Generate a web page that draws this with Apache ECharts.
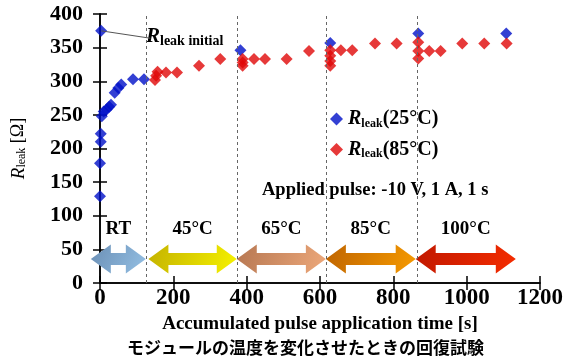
<!DOCTYPE html>
<html>
<head>
<meta charset="utf-8">
<script src="https://cdn.jsdelivr.net/npm/echarts@6/dist/echarts.min.js"></script>
<style>
  html, body { margin: 0; padding: 0; background: #fff; }
  #chart { width: 573px; height: 361px; }
</style>
</head>
<body>
<div id="chart"></div>
<script>
// 25°C の測定点 (時間[s], 抵抗[Ω])
const blueTime = [3, 0, 0, 2, 2, 5, 10, 18, 25, 30, 40, 50, 58, 90, 120, 383, 628, 868, 1108]
const blueR = [375, 129, 178, 210, 222, 248, 255, 258, 262, 265, 283, 290, 295, 303, 303, 346, 357, 371, 371]

// 85°C の測定点
const redTime = [150, 153, 157, 180, 210, 270, 328,
  389, 389, 389, 420, 450, 509, 570,
  628, 628, 628, 628, 657, 688, 750, 809,
  868, 868, 868, 898, 929, 988, 1048, 1109]
const redR = [302, 308, 314, 313, 313, 323, 333,
  323, 328, 333, 333, 333, 333, 345,
  323, 330, 338, 346, 346, 346, 356, 356,
  334, 345, 358, 345, 345, 356, 356, 356]

// 温度区間 (矢印の始点・終点, 区切り線)
const stageNames = ['RT', '45°C', '65°C', '85°C', '100°C']
const stageStart = [-25, 132, 373, 616, 861]
const stageEnd = [125, 373, 616, 861, 1134]
const stageBorders = [127, 373, 618, 865]

const xTicks = [0, 200, 400, 600, 800, 1000, 1200]
const yTicks = [0, 50, 100, 150, 200, 250, 300, 350, 400]

const serif = 'Liberation Serif'
const arrowColors = [
  ['#6b8fb5', '#94c0e4'],
  ['#c4b200', '#f6f200'],
  ['#b67752', '#eda87a'],
  ['#bf6400', '#f69a00'],
  ['#c01800', '#f52c00']
]

const myChart = echarts.init(document.getElementById('chart'))

const axisLine = { show: true, lineStyle: { color: '#000', width: 1.5 } }
const tick = { show: true, inside: true, length: 7, lineStyle: { color: '#000', width: 1.5 } }

const option = {
  animation: false,
  backgroundColor: '#fff',
  grid: { left: 100, right: 33, top: 14, bottom: 78 },
  legend: {
    orient: 'vertical',
    left: 325,
    top: 104,
    itemGap: 10,
    itemWidth: 13,
    itemHeight: 13,
    data: ['25', '85'],
    formatter: function (name) {
      return '{r|R}{s|leak}{n|(' + name + '°C)}'
    },
    textStyle: {
      rich: {
        r: { fontFamily: serif, fontStyle: 'italic', fontWeight: 'bold', fontSize: 20, color: '#000' },
        s: { fontFamily: serif, fontWeight: 'bold', fontSize: 12, color: '#000', padding: [9, 0, 0, 0] },
        n: { fontFamily: serif, fontWeight: 'bold', fontSize: 20, color: '#000' }
      }
    }
  },
  xAxis: [
    {
      type: 'value',
      min: 0,
      max: 1200,
      interval: 200,
      axisLine: axisLine,
      axisTick: tick,
      splitLine: { show: false },
      axisLabel: {
        color: '#000',
        fontFamily: serif,
        fontWeight: 'bold',
        fontSize: 23,
        margin: 4,
        formatter: v => (xTicks.indexOf(v) >= 0 ? String(v) : '')
      },
      name: 'Accumulated pulse application time [s]',
      nameLocation: 'middle',
      nameGap: 31,
      nameTextStyle: { color: '#000', fontFamily: serif, fontWeight: 'bold', fontSize: 19 }
    },
    {
      type: 'value',
      position: 'top',
      min: 0,
      max: 1200,
      interval: 200,
      axisLine: axisLine,
      axisTick: tick,
      axisLabel: { show: false },
      splitLine: { show: false }
    }
  ],
  yAxis: [
    {
      type: 'value',
      min: 0,
      max: 400,
      interval: 50,
      axisLine: axisLine,
      axisTick: tick,
      splitLine: { show: false },
      axisLabel: {
        color: '#000',
        fontFamily: serif,
        fontWeight: 'bold',
        fontSize: 22,
        margin: 17,
        formatter: v => (yTicks.indexOf(v) >= 0 ? String(v) : '')
      },
      name: '{r|R}{s|leak}{n| [Ω]}',
      nameLocation: 'middle',
      nameRotate: 90,
      nameGap: 72,
      nameTextStyle: {
        rich: {
          r: { fontFamily: serif, fontStyle: 'italic', fontSize: 19, color: '#000' },
          s: { fontFamily: serif, fontSize: 12, color: '#000', padding: [7, 0, 0, 0] },
          n: { fontFamily: serif, fontSize: 18, color: '#000' }
        }
      }
    },
    {
      type: 'value',
      position: 'right',
      min: 0,
      max: 400,
      interval: 50,
      axisLine: axisLine,
      axisTick: tick,
      axisLabel: { show: false },
      splitLine: { show: false }
    }
  ],
  graphic: [
    {
      type: 'text',
      left: 146,
      top: 26,
      style: {
        text: '{r|R}{s|leak initial}',
        rich: {
          r: { fontFamily: serif, fontStyle: 'italic', fontWeight: 'bold', fontSize: 21, fill: '#000' },
          s: { fontFamily: serif, fontWeight: 'bold', fontSize: 14, fill: '#000', padding: [9, 0, 0, 0] }
        }
      }
    },
    {
      type: 'text',
      left: 262,
      top: 181,
      style: {
        text: 'Applied pulse: -10 V, 1 A, 1 s',
        fontFamily: serif,
        fontWeight: 'bold',
        fontSize: 18.5,
        fill: '#000'
      }
    },
    {
      type: 'text',
      left: 127,
      top: 339,
      style: {
        text: 'モジュールの温度を変化させたときの回復試験',
        fontFamily: 'Noto Sans CJK JP',
        fontWeight: 'bold',
        fontSize: 17,
        fill: '#000'
      }
    }
  ],
  series: [
    {
      // 温度区間の矢印
      type: 'custom',
      clip: false,
      silent: true,
      z: 1,
      data: stageStart.map((s, i) => [s, stageEnd[i], i]),
      renderItem: function (params, api) {
        const a = api.coord([api.value(0), 0])
        const b = api.coord([api.value(1), 0])
        const i = api.value(2)
        const yc = a[1] - 24
        const x1 = a[0], x2 = b[0]
        const H = 14.5, h = 6, L = 20
        const pts = [
          [x1, yc], [x1 + L, yc - H], [x1 + L, yc - h], [x2 - L, yc - h], [x2 - L, yc - H],
          [x2, yc], [x2 - L, yc + H], [x2 - L, yc + h], [x1 + L, yc + h], [x1 + L, yc + H]
        ]
        return {
          type: 'group',
          children: [
            {
              type: 'polygon',
              shape: { points: pts },
              style: {
                fill: new echarts.graphic.LinearGradient(0, 0, 1, 1, [
                  { offset: 0, color: arrowColors[i][0] },
                  { offset: 1, color: arrowColors[i][1] }
                ])
              }
            },
            {
              type: 'text',
              x: (x1 + x2) / 2,
              y: yc - 30,
              style: {
                text: stageNames[i],
                fontFamily: serif,
                fontWeight: 'bold',
                fontSize: 19,
                fill: '#000',
                align: 'center',
                verticalAlign: 'middle'
              }
            }
          ]
        }
      }
    },
    {
      name: '25',
      type: 'scatter',
      symbol: 'diamond',
      symbolSize: 12,
      clip: false,
      z: 3,
      itemStyle: { color: '#0010c8' },
      data: blueTime.map((t, i) => [t, blueR[i]]),
      markLine: {
        silent: true,
        symbol: 'none',
        label: { show: false },
        lineStyle: { color: '#555', width: 1, type: 'solid' },
        data: [[{ coord: [blueTime[0], blueR[0]] }, { coord: [137, 364] }]]
      }
    },
    {
      name: '85',
      type: 'scatter',
      symbol: 'diamond',
      symbolSize: 12,
      clip: false,
      z: 4,
      itemStyle: { color: '#e00808' },
      data: redTime.map((t, i) => [t, redR[i]]),
      markLine: {
        silent: true,
        symbol: 'none',
        label: { show: false },
        lineStyle: { color: '#666', width: 1, type: [3, 3] },
        data: stageBorders.map(v => ({ xAxis: v }))
      }
    }
  ]
}

myChart.setOption(option)
</script>
</body>
</html>
